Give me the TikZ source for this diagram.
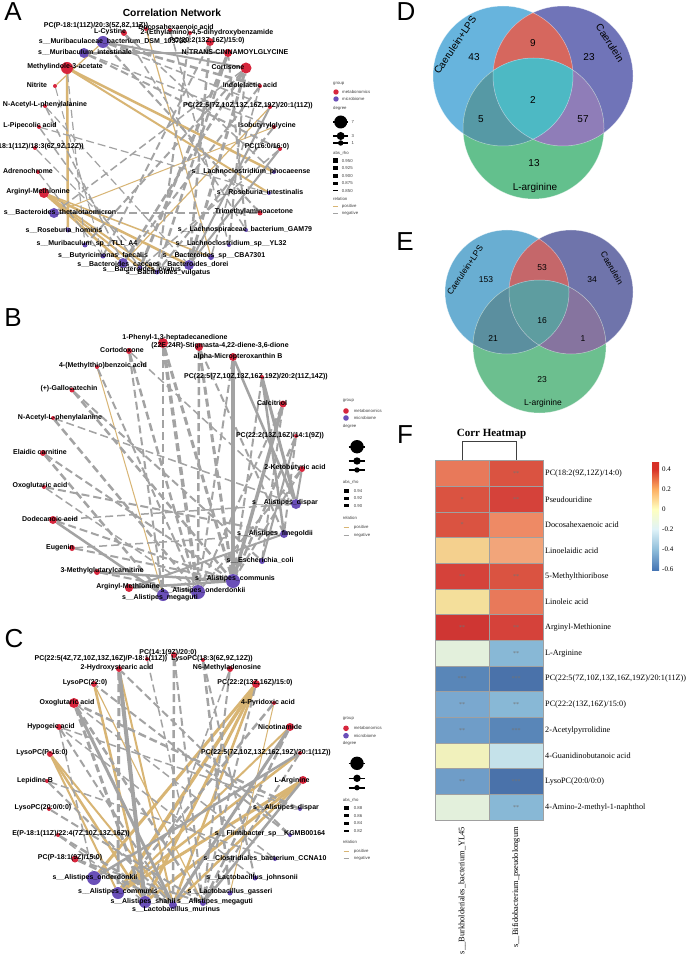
\documentclass[tikz,border=0pt]{standalone}
\usepackage{fontspec}
\setmainfont{Liberation Serif}
\setsansfont{Liberation Sans}
\usetikzlibrary{positioning}
\pgfdeclarelayer{edges}
\pgfsetlayers{edges,main}

% network colours
\definecolor{metred}{HTML}{D7263D}
\definecolor{micpurple}{HTML}{6A4FB8}
\definecolor{postan}{HTML}{D8B574}
\definecolor{neggray}{HTML}{A3A3A3}
% venn colours
\definecolor{vdL}{HTML}{67B4DD}\definecolor{vdR}{HTML}{7074B8}\definecolor{vdB}{HTML}{63C08D}
\definecolor{vdLR}{HTML}{D6675E}\definecolor{vdLB}{HTML}{5699A5}\definecolor{vdRB}{HTML}{8F7DB8}
\definecolor{vdC}{HTML}{4DB9C4}
\definecolor{veL}{HTML}{69AED2}\definecolor{veR}{HTML}{6F74AB}\definecolor{veB}{HTML}{6CBF8F}
\definecolor{veLR}{HTML}{C5676A}\definecolor{veLB}{HTML}{5B8F9F}\definecolor{veRB}{HTML}{86749F}
\definecolor{veC}{HTML}{5E9DA0}
% heatmap colours
\definecolor{hr0}{HTML}{CF3633}\definecolor{hr1}{HTML}{D5423A}\definecolor{hr2}{HTML}{DA5341}
\definecolor{hr3}{HTML}{E8795A}\definecolor{hr4}{HTML}{EE8A65}\definecolor{hr5}{HTML}{F2A57A}
\definecolor{hy1}{HTML}{F4D08E}\definecolor{hy2}{HTML}{F4DF9B}\definecolor{hy3}{HTML}{F1F1BC}
\definecolor{hg1}{HTML}{E3F0DC}\definecolor{hb1}{HTML}{C5E2EA}\definecolor{hb2}{HTML}{88B8D6}
\definecolor{hb3}{HTML}{7AA8CF}\definecolor{hb4}{HTML}{6F9DC8}\definecolor{hb5}{HTML}{5986B8}
\definecolor{hb6}{HTML}{4A72AA}\definecolor{cellgray}{HTML}{A0A0A0}
\definecolor{cbA}{HTML}{4575B4}\definecolor{cbB}{HTML}{91BFDB}\definecolor{cbC}{HTML}{E0F3F8}
\definecolor{cbD}{HTML}{FFFFBF}\definecolor{cbE}{HTML}{FDAE61}\definecolor{cbF}{HTML}{D73027}
\pgfdeclareverticalshading{corrbar}{100bp}{color(0bp)=(cbA); color(25bp)=(cbA);
  color(34.7bp)=(cbB); color(44bp)=(cbC); color(53.2bp)=(cbD); color(62.5bp)=(cbE);
  color(71.8bp)=(cbF); color(100bp)=(cbF)}

\begin{document}
\begin{tikzpicture}[x=1pt,y=-1pt,
  met/.style={circle,fill=metred,inner sep=0pt},
  mic/.style={circle,fill=micpurple,inner sep=0pt},
  lab/.style={font=\sffamily\bfseries\fontsize{7}{7}\selectfont,inner sep=0pt},
  posedge/.style={draw=postan},
  negedge/.style={draw=neggray,dash pattern=on 8pt off 4pt},
  negsolid/.style={draw=neggray},
  legt/.style={font=\sffamily\fontsize{4.3}{4.3}\selectfont,text=black!75,inner sep=0pt,anchor=west},
  panel/.style={font=\sffamily\fontsize{26}{26}\selectfont,inner sep=0pt},
  vnum/.style={font=\sffamily\fontsize{10}{10}\selectfont,inner sep=0pt},
  enumtext/.style={font=\sffamily\fontsize{8.5}{8.5}\selectfont,inner sep=0pt},
  cell/.style={draw=cellgray,line width=0.8pt,minimum width=54pt,minimum height=25.68pt,
    inner sep=0pt,font=\fontsize{6}{6}\selectfont,text=black!55},
  rowlab/.style={anchor=west,font=\fontsize{8.2}{8.2}\selectfont,inner sep=0pt},
  collab/.style={rotate=90,anchor=east,font=\fontsize{8.4}{8.4}\selectfont,inner sep=0pt},
  cbl/.style={anchor=west,font=\fontsize{7}{7}\selectfont,inner sep=0pt}]
\useasboundingbox (0,0) rectangle (685,965);
\begin{pgfonlayer}{edges}
\fill[white] (0,0) rectangle (685,965);
\end{pgfonlayer}

% Panel letters and title
\node[panel] (pA) at (13,11.5) {A};
\node[panel] (pB) at (13,318) {B};
\node[panel] (pC) at (14,639) {C};
\node[panel] (pD) at (406,12) {D};
\node[panel] (pE) at (405,242) {E};
\node[panel] (pF) at (405,435) {F};
\node[font=\sffamily\bfseries\fontsize{10.3}{10.3}\selectfont] (titleA) at (172,13) {Correlation Network};

% ---------------- Network A ----------------
\foreach \n/\x/\y/\r in {aPCP/146/29/2,aDHA/170/30/2,aEth/190/33/2,aCys/124/33/3,aPC202/210/42/4,
  aNTC/228/53/4,aMIA/67/68/6,aCort/246/68/5.5,aNit/55/86/2,aILA/260/86/2,aNAP/45/106/2,
  aPC225/270/107/2,aPip/39/127/2,aIbg/274/127/2,a181/35/148/2,aPC16/280/149/2,aAdr/38/172/2,
  aArgMet/44/193/5,aTMA/260/213/2.5}
  \node[met,minimum size=\r*2pt] (\n) at (\x,\y) {};
\foreach \n/\x/\y/\r in {aMurDSM/103/42/6,aMurInt/84/53/5,aLphoc/274/172/2,aRosInt/269/193/2,
  aBtheta/54/213/5,aRosHom/68/230/2.5,aLGAM/246/230/2,aMurTLL/85/245/2.5,aLYL/229/245/2,
  aBfae/103/256/2.5,aBCBA/211/257/3,aBcac/123/263/5,aBdor/189/265/5,aBova/140/268/2.5,
  aBvul/157/272/2.5}
  \node[mic,minimum size=\r*2pt] (\n) at (\x,\y) {};
\begin{pgfonlayer}{edges}
\foreach \a/\b/\w in {aMIA/aRosHom/2.5,aMIA/aLphoc/2.5,aMIA/aRosInt/2,aNit/aMurDSM/1.2,
  aPCP/aBCBA/1.2,aArgMet/aBcac/2.5,aArgMet/aBdor/2.5,aArgMet/aBvul/2,aArgMet/aBCBA/1.5,
  aArgMet/aBova/2,aBtheta/aIbg/1,aPC225/aBcac/1.2}
  \draw[posedge,line width=\w pt] (\a) -- (\b);
\foreach \a/\b/\w in {aCort/aBdor/3,aCort/aBcac/2.5,aCort/aMurTLL/2,aNTC/aBova/3,aNTC/aBvul/2.5,
  aPC202/aBfae/2,aPC202/aBdor/2.5,aEth/aBvul/2,aDHA/aLYL/1.5,aCys/aLGAM/1.5,aMurDSM/aILA/2.5,
  aMurDSM/aTMA/2,aMurDSM/aPC225/1.5,aMurInt/aIbg/1.5,aMurInt/aPC16/2,aMIA/aMurTLL/1.2,
  aNit/aBfae/1,aNAP/aBcac/1.5,aNAP/aBdor/1.2,aPip/aBova/1.5,a181/aBvul/1.2,aAdr/aBfae/1.2,
  aILA/aBcac/2,aPC16/aBova/1.5,aIbg/aBvul/2,aTMA/aBtheta/1.2,aLphoc/aCys/1.5,aRosInt/aPip/1.2,
  aLGAM/aNTC/2,aLYL/aCort/2,aBCBA/aILA/1.5,aCort/aBtheta/1.5}
  \draw[negedge,line width=\w pt] (\a) -- (\b);
\foreach \a/\b/\w in {aMurDSM/aCort/2,aMurInt/aNTC/2.5,aPC225/aBdor/2,aPC16/aBdor/2}
  \draw[negsolid,line width=\w pt] (\a) -- (\b);
\end{pgfonlayer}
\foreach \n/\x/\y/\t in {aPCP/96/26/{PC(P-18:1(11Z)/20:3(5Z,8Z,11Z))},aDHA/176/27/{Docosahexaenoic acid},
  aEth/207/33/{2-(Ethylamino)-4,5-dihydroxybenzamide},aCys/110/32/{L-Cystine},
  aMurDSM/113/41/{s\_\_Muribaculaceae\_bacterium\_DSM\_103720},aPC202/207/41/{PC(20:2(13Z,16Z)/15:0)},
  aMurInt/85/52/{s\_\_Muribaculum\_intestinale},aNTC/235/52/{N-TRANS-CINNAMOYLGLYCINE},
  aMIA/65/67/{Methylindole-3-acetate},aCort/228/67/{Cortisone},aNit/37/85/{Nitrite},
  aILA/250/85/{Indolelactic acid},aNAP/45/105/{N-Acetyl-L-phenylalanine},
  aPC225/248/106/{PC(22:5(7Z,10Z,13Z,16Z,19Z)/20:1(11Z))},aPip/30/126/{L-Pipecolic acid},
  aIbg/267/126/{Isobutyrylglycine},aPC16/267/147/{PC(16:0/16:0)},aAdr/28/171/{Adrenochrome},
  aLphoc/251/172/{s\_\_Lachnoclostridium\_phocaeense},aArgMet/38/192/{Arginyl-Methionine},
  aRosInt/260/192/{s\_\_Roseburia\_intestinalis},aBtheta/60/212/{s\_\_Bacteroides\_thetaiotaomicron},
  aTMA/254/212/{Trimethylaminoacetone},aRosHom/64/230/{s\_\_Roseburia\_hominis},
  aLGAM/245/230/{s\_\_Lachnospiraceae\_bacterium\_GAM79},aMurTLL/87/244/{s\_\_Muribaculum\_sp\_\_TLL\_A4},
  aLYL/231/244/{s\_\_Lachnoclostridium\_sp\_\_YL32},aBfae/103/256/{s\_\_Butyricimonas\_faecalis},
  aBCBA/214/256/{s\_\_Bacteroides\_sp\_\_CBA7301},aBcac/117/264/{s\_\_Bacteroides\_caccae},
  aBdor/192/264/{s\_\_Bacteroides\_dorei},aBova/142/269/{s\_\_Bacteroides\_ovatus},
  aBvul/168/273/{s\_\_Bacteroides\_vulgatus}}
  \node[lab] (\n-t) at (\x,\y) {\t};
\node[lab,anchor=east] (a181-t) at (84,147) {18:1(11Z)/18:3(6Z,9Z,12Z))};

% legend A
\begin{scope}[shift={(333,84)}]
\node[legt] (lgA-g) at (0,0) {group};
\node[met,minimum size=5.4pt] (lgA-m) at (3,8) {};
\node[legt] (lgA-mt) at (9,8) {metabonomics};
\node[mic,minimum size=5.4pt] (lgA-b) at (3,15) {};
\node[legt] (lgA-bt) at (9,15) {microbiome};
\node[legt] (lgA-d) at (0,24) {degree};
\foreach \yy/\r/\t in {38/6.5/7,52/4/3,59/2.7/1}{
  \draw[line width=1.6pt] (0,\yy) -- (15,\yy);
  \node[circle,fill=black,inner sep=0pt,minimum size=\r*2pt] (lgA-c\t) at (7.7,\yy) {};
  \node[legt] (lgA-ct\t) at (18.5,\yy) {\t};}
\node[legt] (lgA-r) at (0,69) {abs\_rho};
\foreach \yy/\h/\t in {77/5/0.950,84.3/4.3/0.925,92/3.5/0.900,99.3/2.5/0.875,106.7/1.5/0.850}{
  \fill (0,{\yy-\h/2}) rectangle (5,{\yy+\h/2});
  \node[legt] (lgA-w\t) at (8.7,\yy) {\t};}
\node[legt] (lgA-rel) at (0,115) {relation};
\draw[postan,line width=1pt] (0,122.7) -- (5,122.7);
\node[legt] (lgA-p) at (8.7,122.7) {positive};
\draw[neggray,line width=1pt] (0,129.3) -- (5,129.3);
\node[legt] (lgA-n) at (8.7,129.3) {negative};
\end{scope}

% ---------------- Network B ----------------
\foreach \n/\x/\y/\r in {bPhen/163/343/5,bStig/199/347/4,bCort/129/351/3,bAlpha/233/357/4,
  bMTB/97/367/2,bPC225/262/377/2,bGallo/72/390/2.5,bCalc/283/404/3.5,bNAP/53/418/2,
  bPC222/296/436/2,bElai/43/453/3,bKeto/302/469/3,bOxo/44/487/2,bDod/53/520/4,bEug/72/548/3,
  bMGC/97/572/3,bArgMet/129/588/4}
  \node[met,minimum size=\r*2pt] (\n) at (\x,\y) {};
\foreach \n/\x/\y/\r in {bDisp/296/504/5,bFine/284/534/4,bEcoli/262/561/3,bComm/233/581/7,
  bOnd/198/592/7,bMega/163/595/6}
  \node[mic,minimum size=\r*2pt] (\n) at (\x,\y) {};
\begin{pgfonlayer}{edges}
\draw[posedge,line width=1pt] (bMTB) -- (bMega);
\foreach \a/\b/\w in {bPhen/bOnd/3.5,bPhen/bComm/3,bPhen/bMega/2.5,bStig/bComm/3,bStig/bOnd/2.5,
  bStig/bFine/2,bCort/bOnd/2.5,bCort/bMega/2,bAlpha/bOnd/2,bPC225/bComm/2,bCalc/bOnd/2,
  bCalc/bEcoli/2,bPC222/bComm/2.5,bPC222/bFine/2,bKeto/bComm/2,bKeto/bOnd/2,bGallo/bComm/2.5,
  bGallo/bEcoli/2,bNAP/bOnd/2.5,bNAP/bDisp/1.5,bElai/bComm/2,bElai/bMega/2.5,bOxo/bFine/2,
  bOxo/bOnd/1.5,bDod/bDisp/1.5,bDod/bComm/2,bEug/bComm/2,bEug/bFine/1.5,bMGC/bOnd/2,
  bMTB/bOnd/2,bCort/bDisp/1.5}
  \draw[negedge,line width=\w pt] (\a) -- (\b);
\foreach \a/\b/\w in {bAlpha/bComm/3.5,bAlpha/bDisp/2.5,bPC225/bFine/2.5,bPC225/bDisp/3,
  bCalc/bComm/3.5,bPC222/bEcoli/2,bKeto/bDisp/2,bDod/bMega/2.5,bMGC/bComm/2.5,bArgMet/bComm/2.5,
  bArgMet/bFine/2}
  \draw[negsolid,line width=\w pt] (\a) -- (\b);
\end{pgfonlayer}
\foreach \n/\x/\y/\t in {bPhen/175/338/{1-Phenyl-1,3-heptadecanedione},
  bStig/220/346/{(22E,24R)-Stigmasta-4,22-diene-3,6-dione},bCort/122/350/{Cortodoxone},
  bAlpha/238/357/{alpha-Micropteroxanthin B},bMTB/103/366/{4-(Methylthio)benzoic acid},
  bPC225/256/377/{PC(22:5(7Z,10Z,13Z,16Z,19Z)/20:2(11Z,14Z))},bGallo/69/389/{(+)-Gallocatechin},
  bCalc/272/403/{Calcitriol},bNAP/60/418/{N-Acetyl-L-phenylalanine},
  bPC222/280/436/{PC(22:2(13Z,16Z)/14:1(9Z))},bElai/40/452/{Elaidic carnitine},
  bKeto/295/468/{2-Ketobutyric acid},bOxo/40/486/{Oxoglutaric acid},
  bDisp/285/503/{s\_\_Alistipes\_dispar},bDod/50/519/{Dodecanoic acid},
  bFine/275/534/{s\_\_Alistipes\_finegoldii},bEug/60/548/{Eugenin},
  bEcoli/260/560/{s\_\_Escherichia\_coli},bMGC/102/571/{3-Methylglutarylcarnitine},
  bComm/235/579/{s\_\_Alistipes\_communis},bArgMet/128/587/{Arginyl-Methionine},
  bOnd/203/591/{s\_\_Alistipes\_onderdonkii},bMega/160/598/{s\_\_Alistipes\_megaguti}}
  \node[lab] (\n-t) at (\x,\y) {\t};

% legend B
\begin{scope}[shift={(342.7,401)}]
\node[legt] (lgB-g) at (0,0) {group};
\node[met,minimum size=5.6pt] (lgB-m) at (3.3,10) {};
\node[legt] (lgB-mt) at (11,10) {metabonomics};
\node[mic,minimum size=5.6pt] (lgB-b) at (3.3,17) {};
\node[legt] (lgB-bt) at (11,17) {microbiome};
\node[legt] (lgB-d) at (0,25) {degree};
\foreach \i/\yy/\r in {1/45.7/6.7,2/60/3.7,3/69/2.7}{
  \draw[line width=1.6pt] (6,\yy) -- (22.3,\yy);
  \node[circle,fill=black,inner sep=0pt,minimum size=\r*2pt] (lgB-c\i) at (14.3,\yy) {};}
\node[legt] (lgB-r) at (0,81) {abs\_rho};
\foreach \yy/\h/\t in {90/4/0.94,97.3/3.3/0.92,104.7/2.7/0.90}{
  \fill (1,{\yy-\h/2}) rectangle (6.7,{\yy+\h/2});
  \node[legt] (lgB-w\t) at (11,\yy) {\t};}
\node[legt] (lgB-rel) at (0,117.3) {relation};
\draw[postan,line width=1pt] (1,126.7) -- (6.7,126.7);
\node[legt] (lgB-p) at (11,126.7) {positive};
\draw[neggray,line width=1pt] (1,134) -- (6.7,134);
\node[legt] (lgB-n) at (11,134) {negative};
\end{scope}

% ---------------- Network C ----------------
\foreach \n/\x/\y/\r in {cPC141/174/655/3,cPCa/147/659/2,cLPC183/203/660/2,cHSA/119/669/3,
  cM6A/230/669/3,cLPC220/94/684/3,cPC222/256/684/4,cOxo/74/703/5,cPyr/274/703/2,cHyp/59/727/3,
  cNic/290/727/4,cLPCP16/50/754/3,cPCb/300/753/2,cLepB/47/781/2,cLArg/303/780/4,
  cLPC200/49/809/2,cPE/58/835/2,cPCP18/75/859/3.5}
  \node[met,minimum size=\r*2pt] (\n) at (\x,\y) {};
\foreach \n/\x/\y/\r in {cDisp/300/809/2,cFlint/290/835/2,cClos/275/859/2,cOnd/94/878/7,
  cJohn/255/878/2.5,cComm/118/893/6,cGass/230/893/2.5,cShah/145/902/6,cMega/203/903/3,
  cMur/173/905/4}
  \node[mic,minimum size=\r*2pt] (\n) at (\x,\y) {};
\begin{pgfonlayer}{edges}
\foreach \a/\b/\w in {cPC222/cOnd/3,cPC222/cComm/3.5,cPC222/cShah/3,cPC222/cMur/2.5,
  cLArg/cComm/3,cLArg/cShah/3,cLArg/cMur/2.5,cLPCP16/cShah/2.5,cLPCP16/cComm/2,cLPCP16/cMur/2,
  cLPC220/cMega/1.2,cLPC220/cShah/2.5,cPyr/cGass/1,cPCb/cComm/2.5,cNic/cComm/2,cHSA/cMur/2}
  \draw[posedge,line width=\w pt] (\a) -- (\b);
\foreach \a/\b/\w in {cOxo/cShah/3,cOxo/cMega/2.5,cHSA/cComm/3,cPC141/cMur/2.5,cPC141/cMega/2,
  cLPC183/cJohn/2,cLPC183/cGass/2.5,cM6A/cMega/2,cM6A/cShah/1.5,cPC222/cMega/2,cNic/cMega/2.5,
  cPCb/cMega/2,cHyp/cMur/2,cHyp/cOnd/1.5,cLepB/cMur/2,cLPC200/cMega/2,cPE/cMur/2.5,
  cPE/cShah/1.5,cPCP18/cMega/2,cPCP18/cMur/2.5,cDisp/cHyp/1.5,cDisp/cOxo/2.5,cFlint/cLPC220/2,
  cFlint/cHSA/2,cClos/cOxo/1.5,cClos/cLepB/1.5,cJohn/cHyp/1.5,cPyr/cComm/2.5,cPCa/cMega/1.5}
  \draw[negedge,line width=\w pt] (\a) -- (\b);
\foreach \a/\b/\w in {cOxo/cMur/3,cHSA/cShah/4,cNic/cMur/3,cPCb/cOnd/2.5,cLArg/cMega/2.5}
  \draw[negsolid,line width=\w pt] (\a) -- (\b);
\end{pgfonlayer}
\foreach \n/\x/\y/\t in {cPC141/168/653/{PC(14:1(9Z)/20:0)},
  cPCa/101/659/{PC(22:5(4Z,7Z,10Z,13Z,16Z)/P-18:1(11Z))},cLPC183/212/659/{LysoPC(18:3(6Z,9Z,12Z))},
  cHSA/117/668/{2-Hydroxystearic acid},cM6A/227/668/{N6-Methyladenosine},
  cLPC220/85/683/{LysoPC(22:0)},cPC222/255/683/{PC(22:2(13Z,16Z)/15:0)},
  cOxo/67/703/{Oxoglutaric acid},cPyr/268/703/{4-Pyridoxic acid},cHyp/51/727/{Hypogeic acid},
  cNic/280/727/{Nicotinamide},cLPCP16/42/753/{LysoPC(P-16:0)},
  cPCb/266/753/{PC(22:5(7Z,10Z,13Z,16Z,19Z)/20:1(11Z))},cLepB/35/781/{Lepidine B},
  cLArg/292/781/{L-Arginine},cLPC200/43/808/{LysoPC(20:0/0:0)},cDisp/286/808/{s\_\_Alistipes\_dispar},
  cPE/71/834/{E(P-18:1(11Z)/22:4(7Z,10Z,13Z,16Z))},cFlint/270/834/{s\_\_Flintibacter\_sp\_\_KGMB00164},
  cPCP18/70/858/{PC(P-18:1(9Z)/15:0)},cClos/265/858/{s\_\_Clostridiales\_bacterium\_CCNA10},
  cOnd/95/878/{s\_\_Alistipes\_onderdonkii},cJohn/252/878/{s\_\_Lactobacillus\_johnsonii},
  cComm/118/892/{s\_\_Alistipes\_communis},cGass/230/892/{s\_\_Lactobacillus\_gasseri},
  cShah/143/902/{s\_\_Alistipes\_shahii},cMega/215/902/{s\_\_Alistipes\_megaguti},
  cMur/176/909/{s\_\_Lactobacillus\_murinus}}
  \node[lab] (\n-t) at (\x,\y) {\t};

% legend C
\begin{scope}[shift={(342.7,719)}]
\node[legt] (lgC-g) at (0,0) {group};
\node[met,minimum size=5.6pt] (lgC-m) at (3.3,9.3) {};
\node[legt] (lgC-mt) at (11,9.3) {metabonomics};
\node[mic,minimum size=5.6pt] (lgC-b) at (3.3,16.7) {};
\node[legt] (lgC-bt) at (11,16.7) {microbiome};
\node[legt] (lgC-d) at (0,24.3) {degree};
\foreach \i/\yy/\r in {1/44.3/6.7,2/59.3/3.7,3/68.7/2.7}{
  \draw[line width=1.6pt] (6,\yy) -- (22.3,\yy);
  \node[circle,fill=black,inner sep=0pt,minimum size=\r*2pt] (lgC-c\i) at (14.3,\yy) {};}
\node[legt] (lgC-r) at (0,81) {abs\_rho};
\foreach \yy/\h/\t in {89.3/4/0.88,96.7/3.5/0.86,104.3/3/0.84,112/2/0.82}{
  \fill (1,{\yy-\h/2}) rectangle (6.7,{\yy+\h/2});
  \node[legt] (lgC-w\t) at (11,\yy) {\t};}
\node[legt] (lgC-rel) at (0,122.7) {relation};
\draw[postan,line width=1pt] (1,132) -- (6.7,132);
\node[legt] (lgC-p) at (11,132) {positive};
\draw[neggray,line width=1pt] (1,139.3) -- (6.7,139.3);
\node[legt] (lgC-n) at (11,139.3) {negative};
\end{scope}

% ---------------- Venn D ----------------
\fill[vdL] (503,76) circle[radius=70pt];
\fill[vdR] (563,76) circle[radius=70pt];
\fill[vdB] (533.5,128.5) circle[radius=70.5pt];
\begin{scope}
\clip (503,76) circle[radius=70pt];
\fill[vdLR] (563,76) circle[radius=70pt];
\fill[vdLB] (533.5,128.5) circle[radius=70.5pt];
\end{scope}
\begin{scope}
\clip (563,76) circle[radius=70pt];
\fill[vdRB] (533.5,128.5) circle[radius=70.5pt];
\clip (503,76) circle[radius=70pt];
\fill[vdC] (533.5,128.5) circle[radius=70.5pt];
\end{scope}
\draw[white,opacity=0.5,line width=0.5pt] (503,76) circle[radius=70pt] (563,76) circle[radius=70pt]
  (533.5,128.5) circle[radius=70.5pt];
\foreach \n/\x/\y in {43/474/57,9/533/43,23/589/57,2/533/100,5/481/119,57/583/119,13/534/163}
  \node[vnum] (dN\n) at (\x,\y) {\n};
\node[vnum,rotate=56] (dLPS) at (455,45) {Caerulein+LPS};
\node[vnum,rotate=-57] (dCae) at (610,43) {Caerulein};
\node[vnum] (dLarg) at (535,188) {L-arginine};

% ---------------- Venn E ----------------
\fill[veL] (507,292) circle[radius=62pt];
\fill[veR] (571,292) circle[radius=62pt];
\fill[veB] (539.5,346.5) circle[radius=66.5pt];
\begin{scope}
\clip (507,292) circle[radius=62pt];
\fill[veLR] (571,292) circle[radius=62pt];
\fill[veLB] (539.5,346.5) circle[radius=66.5pt];
\end{scope}
\begin{scope}
\clip (571,292) circle[radius=62pt];
\fill[veRB] (539.5,346.5) circle[radius=66.5pt];
\clip (507,292) circle[radius=62pt];
\fill[veC] (539.5,346.5) circle[radius=66.5pt];
\end{scope}
\draw[white,opacity=0.5,line width=0.5pt] (507,292) circle[radius=62pt] (571,292) circle[radius=62pt]
  (539.5,346.5) circle[radius=66.5pt];
\foreach \n/\x/\y in {153/486/280,53/542/268,34/592/280,16/542/321,21/493/339,1/583/339,23/542/380}
  \node[enumtext] (eN\n) at (\x,\y) {\n};
\node[enumtext,rotate=56] (eLPS) at (465,270) {Caerulein+LPS};
\node[enumtext,rotate=-60] (eCae) at (612,268) {Caerulein};
\node[enumtext] (eLarg) at (543,403) {L-arginine};

% ---------------- Heatmap F ----------------
\node[font=\bfseries\fontsize{11}{11}\selectfont,inner sep=0pt] (hmTitle) at (491.5,434) {Corr Heatmap};
\foreach \i/\cl/\sl/\cr/\sr/\t in {0/hr3/{}/hr2/{**}/{PC(18:2(9Z,12Z)/14:0)},
  1/hr2/{*}/hr1/{**}/{Pseudouridine},2/hr2/{*}/hr4/{}/{Docosahexaenoic acid},
  3/hy1/{}/hr5/{}/{Linoelaidic acid},4/hr1/{**}/hr2/{**}/{5-Methylthioribose},
  5/hy2/{}/hr3/{}/{Linoleic acid},6/hr0/{**}/hr1/{**}/{Arginyl-Methionine},
  7/hg1/{}/hb2/{**}/{L-Arginine},8/hb5/{***}/hb6/{***}/{PC(22:5(7Z,10Z,13Z,16Z,19Z)/20:1(11Z))},
  9/hb3/{**}/hb2/{**}/{PC(22:2(13Z,16Z)/15:0)},10/hb4/{**}/hb5/{***}/{2-Acetylpyrrolidine},
  11/hy3/{}/hb1/{}/{4-Guanidinobutanoic acid},12/hb4/{**}/hb6/{***}/{LysoPC(20:0/0:0)},
  13/hg1/{}/hb2/{**}/{4-Amino-2-methyl-1-naphthol}}{
  \pgfmathsetmacro\yc{460.7+(\i+0.5)*25.68}
  \node[cell,fill=\cl] (hL\i) at (462,\yc) {\sl};
  \node[cell,fill=\cr] (hR\i) at (516,\yc) {\sr};
  \node[rowlab] (hT\i) at (545,\yc) {\t};}
\draw[black!75,line width=0.8pt] (hL0.north) -- ++(0,-18.7) -| (hR0.north);
\node[collab] (colL) at (462,827) {s\_\_Burkholderiales\_bacterium\_YL45};
\node[collab] (colR) at (516,827) {s\_\_Bifidobacterium\_pseudolongum};
% colour bar
\shade[shading=corrbar] (652,462) rectangle (659,570);
\foreach \v/\yy in {0.4/469,0.2/489,0/509,-0.2/529,-0.4/549,-0.6/569}
  \node[cbl] (cb\yy) at (662,\yy) {\v};
\end{tikzpicture}
\end{document}
